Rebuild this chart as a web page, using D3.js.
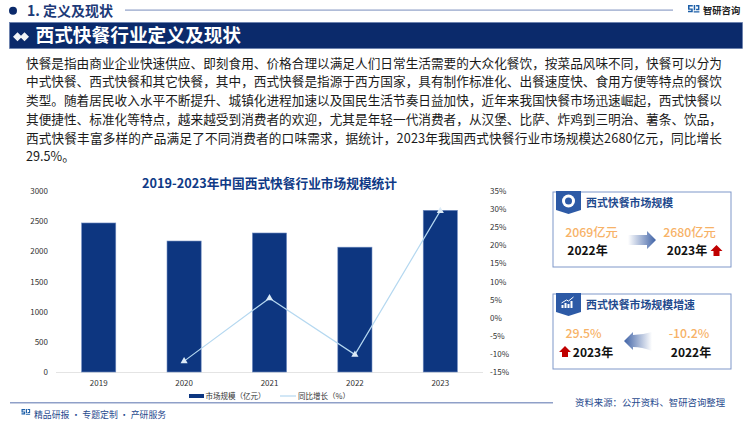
<!DOCTYPE html>
<html><head><meta charset="utf-8">
<script src="https://cdn.jsdelivr.net/npm/d3@7"></script>
<style>html,body{margin:0;padding:0;background:#fff}svg{display:block}text{font-family:"Noto Sans CJK SC","Noto Sans",sans-serif}</style>
</head><body><svg id="c" width="750" height="421"></svg>
<script>
const years=["2019","2020","2021","2022","2023"];
const marketSize=[2470,2171,2304,2069,2680];
const growth=[null,-12,5.4,-10.2,29.5];
const leftTicks=[0,500,1000,1500,2000,2500,3000];
const rightTicks=[-15,-10,-5,0,5,10,15,20,25,30,35];
const chartTitle="2019-2023年中国西式快餐行业市场规模统计";
const legendLabels=["市场规模（亿元）","同比增长（%）"];
const bodyLines=[
"快餐是指由商业企业快速供应、即刻食用、价格合理以满足人们日常生活需要的大众化餐饮，按菜品风味不同，快餐可以分为",
"中式快餐、西式快餐和其它快餐，其中，西式快餐是指源于西方国家，具有制作标准化、出餐速度快、食用方便等特点的餐饮",
"类型。随着居民收入水平不断提升、城镇化进程加速以及国民生活节奏日益加快，近年来我国快餐市场迅速崛起，西式快餐以",
"其便捷性、标准化等特点，越来越受到消费者的欢迎，尤其是年轻一代消费者，从汉堡、比萨、炸鸡到三明治、薯条、饮品，",
"西式快餐丰富多样的产品满足了不同消费者的口味需求，据统计，2023年我国西式快餐行业市场规模达2680亿元，同比增长",
"29.5%。"];
const navy="#0b2a6b",bar="#0d3680",orange="#f7b267",frame="#7f97c9",rule="#8fa0c8",red="#c00000";
const svg=d3.select("#c");
const T=(x,y,s,o={})=>svg.append("text").attr("x",x).attr("y",y).text(s)
 .attr("font-size",o.size||12).attr("fill",o.fill||"#222").attr("font-weight",o.weight||400)
 .attr("text-anchor",o.anchor||"start");
const defs=svg.append("defs");
const mkGrad=(id,x1,x2)=>{const g=defs.append("linearGradient").attr("id",id).attr("x1",x1).attr("x2",x2).attr("y1",0).attr("y2",0);
 g.append("stop").attr("offset",0).attr("stop-color","#fff");g.append("stop").attr("offset",1).attr("stop-color","#3f62a6");};
mkGrad("gr",0,1);mkGrad("gl",1,0);

// header
svg.append("circle").attr("cx",13).attr("cy",10.7).attr("r",4).attr("fill",navy);
T(27,16,"1. 定义及现状",{size:14,weight:700,fill:"#1d3a78"});
svg.append("rect").attr("x",125).attr("y",9.5).attr("width",548).attr("height",1.2).attr("fill",rule);
svg.append("rect").attr("x",9.5).attr("y",22.5).attr("width",733).attr("height",26).attr("fill",navy).attr("stroke","#5f78ab").attr("stroke-width",.6);
svg.append("path").attr("d","M13 36.700l4.500-4.500 4.500 4.500-4.500 4.500zM20 36.700l4.500-4.500 4.500 4.500-4.500 4.500z").attr("fill","#fff").attr("opacity",.95);
T(35.5,42,"西式快餐行业定义及现状",{size:18.700,weight:700,fill:"#fff"});
// logo
const logo=(x,y,s)=>{svg.append("path").attr("transform",`translate(${x},${y}) scale(${s})`)
 .attr("d","M0 0h5v1.600h-3.400v2h3.400v4h-5v-1.600h3.400v-1h-3.400zM6 0h1.600v5.500h-1.600zM6 6.500h6v1.500h-6zM8.500 0h3.500v5.500h-3.500v-1.500h2v-2.500h-2z").attr("fill","#1d5fa8");};
logo(688,5,.95);
T(703,14,"智研咨询",{size:9.300,weight:700,fill:"#222"});

// body
bodyLines.forEach((l,i)=>{const t=T(26,67.5+i*18.75,l,{size:12.65,fill:"#1a1a1a"});
 if(i<5)t.attr("textLength",696).attr("lengthAdjust","spacing");});

// chart
const x=d3.scaleBand().domain(years).range([56,483]).paddingInner(0.6).paddingOuter(0.3);
const yL=d3.scaleLinear().domain([0,3000]).range([372,191]);
const yR=d3.scaleLinear().domain([-15,35]).range([372,191]);
T(269.5,188,chartTitle,{size:12.700,weight:700,fill:"#0f3a86",anchor:"middle"});
svg.append("line").attr("x1",56).attr("x2",483).attr("y1",372.5).attr("y2",372.5).attr("stroke","#e4e4e4");
svg.append("g").selectAll("rect").data(years).join("rect")
 .attr("x",d=>x(d)).attr("width",x.bandwidth())
 .attr("y",(d,i)=>yL(marketSize[i])).attr("height",(d,i)=>372-yL(marketSize[i]))
 .attr("fill",bar).attr("stroke","#6f8cc0").attr("stroke-width",.6);
const ax=svg.append("g").attr("transform","translate(0,372)").call(d3.axisBottom(x).tickSize(0).tickPadding(8));
const al=svg.append("g").attr("transform","translate(48,0)").call(d3.axisLeft(yL).tickValues(leftTicks).tickSize(0).tickPadding(0).tickFormat(d3.format("d")));
const ar=svg.append("g").attr("transform","translate(490,0)").call(d3.axisRight(yR).tickValues(rightTicks).tickSize(0).tickPadding(0).tickFormat(d=>d+"%"));
[ax,al,ar].forEach(g=>{g.select(".domain").remove();g.selectAll("text").attr("font-size",8).attr("fill","#333").attr("font-family",'"Noto Sans",sans-serif');});
const pts=years.map((d,i)=>({d,v:growth[i]})).filter(p=>p.v!==null);
const cx=d=>x(d)+x.bandwidth()/2;
svg.append("path").datum(pts).attr("fill","none").attr("stroke","#b5d8f0").attr("stroke-width",1.2)
 .attr("d",d3.line().x(p=>cx(p.d)).y(p=>yR(p.v)));
svg.append("g").selectAll("path").data(pts).join("path")
 .attr("transform",p=>`translate(${cx(p.d)},${yR(p.v)})`)
 .attr("d",d3.symbol(d3.symbolTriangle,22)).attr("fill","#dcebf7");
// legend
svg.append("rect").attr("x",189).attr("y",394).attr("width",15).attr("height",4).attr("fill",bar);
T(205.5,399,legendLabels[0],{size:7.500,fill:"#333"});
svg.append("line").attr("x1",280).attr("x2",296).attr("y1",396).attr("y2",396).attr("stroke","#b5d8f0").attr("stroke-width",1.2);
T(298,399,legendLabels[1],{size:7.500,fill:"#333"});

// panels
const panel=(yT,h,title,icon)=>{
 svg.append("rect").attr("x",553).attr("y",yT).attr("width",178).attr("height",h).attr("fill","#fff").attr("stroke",frame).attr("stroke-width",1);
 svg.append("path").attr("d",`M556 ${yT-1}h25v19l-12.500 4l-12.500-4z`).attr("fill","#2d5aa6");
 T(586,yT+15,title,{size:10.900,weight:700,fill:"#1f4a8e"});
 icon(568.5,yT+9);
};
panel(192,75,"西式快餐市场规模",(cx,cy)=>{
 svg.append("circle").attr("cx",cx).attr("cy",cy).attr("r",6.500).attr("fill","#fff");
 svg.append("circle").attr("cx",cx).attr("cy",cy).attr("r",3.500).attr("fill","#2d5aa6");
});
panel(294,75,"西式快餐市场规模增速",(cx,cy)=>{
 svg.append("path").attr("d",`M${cx-7} ${cy+5}v-3h2v3zM${cx-4} ${cy+5}v-5h2v5zM${cx-1} ${cy+5}v-4h2v4zM${cx+2} ${cy+5}v-7h2v7z`).attr("fill","#fff");
 svg.append("path").attr("d",`M${cx-7} ${cy}L${cx-2} ${cy-3}L${cx} ${cy-2}L${cx+5} ${cy-6}`).attr("fill","none").attr("stroke","#fff").attr("stroke-width",1);
});
// upper
T(591.500,237,"2069亿元",{size:12.300,weight:500,fill:orange,anchor:"middle"});
T(587.500,255,"2022年",{size:12,weight:700,fill:"#111",anchor:"middle"});
T(689.500,237,"2680亿元",{size:12.300,weight:500,fill:orange,anchor:"middle"});
T(687,255,"2023年",{size:12,weight:700,fill:"#111",anchor:"middle"});
svg.append("path").attr("d","M628 235h19v-4l9 9-9 9v-4h-19z").attr("fill","url(#gr)");
svg.append("path").attr("d","M719.500 256h-6v-5h-3l6-6 6 6h-3z").attr("fill",red);
// lower
T(583.500,338,"29.5%",{size:12.300,weight:500,fill:orange,anchor:"middle"});
T(593,357,"2023年",{size:12,weight:700,fill:"#111",anchor:"middle"});
T(689,338,"-10.2%",{size:12.300,weight:500,fill:orange,anchor:"middle"});
T(691,357,"2022年",{size:12,weight:700,fill:"#111",anchor:"middle"});
svg.append("path").attr("d","M652 332q-10 3-19 3v-3l-9 9 9 9v-3q9 0 19 4z").attr("fill","url(#gl)");
svg.append("path").attr("d","M568 357h-6v-5h-3l6-6 6 6h-3z").attr("fill",red);

// footer
svg.append("rect").attr("x",10).attr("y",402).attr("width",543).attr("height",1.5).attr("fill",rule);
logo(21.500,409,.72);
T(34,418,"精品研报 · 专题定制 · 产研服务",{size:8.900,fill:"#1f4a8e"});
T(575,405.500,"资料来源：公开资料、智研咨询整理",{size:9.400,fill:"#1f4a8e"});
</script></body></html>
